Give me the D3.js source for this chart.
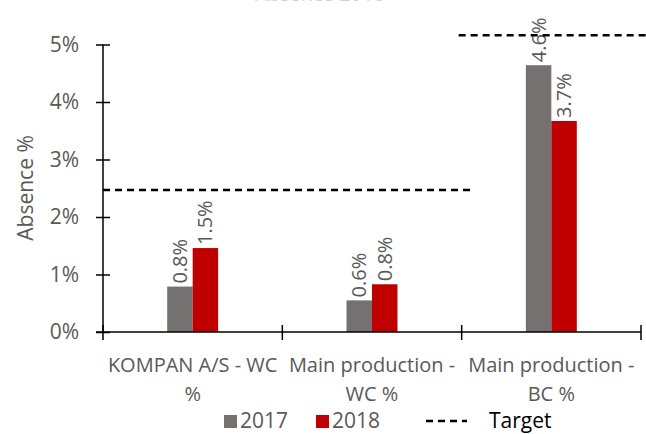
<!DOCTYPE html>
<html>
<head>
<meta charset="utf-8">
<script src="https://cdn.jsdelivr.net/npm/d3@7"></script>
<style>
  body { margin: 0; background: #fff; }
  svg { display: block; font-family: "Open Sans", sans-serif; }
</style>
</head>
<body>
<svg id="chart" width="646" height="434"></svg>
<script>
// Data
const categories = ["KOMPAN A/S - WC %", "Main production - WC %", "Main production - BC %"];
const series = ["2017", "2018"];
const values2017 = [0.79, 0.55, 4.64];
const values2018 = [1.46, 0.83, 3.67];
const labels2017 = ["0.8%", "0.6%", "4.6%"];
const labels2018 = ["1.5%", "0.8%", "3.7%"];
const targetValues = [2.47, 5.16];
const yTicks = [0, 1, 2, 3, 4, 5];

const colors = { "2017": "#767171", "2018": "#C00000" };
const textGrey = "#595959";

const svg = d3.select('#chart');

// Scales
const x = d3.scaleBand().domain(categories).range([103, 641]).padding(0);
const xSub = d3.scaleBand().domain(series).range([0, x.bandwidth()]).paddingInner(0).paddingOuter(2.52);
const y = d3.scaleLinear().domain([0, 5]).range([332, 44.5]);

// Title (clipped at top of picture)
svg.append('text')
    .attr('x', 320)
    .attr('y', 1)
    .attr('text-anchor', 'middle')
    .style('font-size', '20px')
    .style('fill', '#d0d0d0')
    .text('Absence 2018');

// Bars
const rows = categories.map((c, i) => ({
    cat: c,
    items: [
        { s: "2017", v: values2017[i], label: labels2017[i] },
        { s: "2018", v: values2018[i], label: labels2018[i] }
    ]
}));

const groups = svg.selectAll('g.cat')
    .data(rows)
    .enter()
    .append('g')
    .attr('class', 'cat')
    .attr('transform', d => `translate(${x(d.cat)},0)`);

groups.selectAll('rect')
    .data(d => d.items)
    .enter()
    .append('rect')
    .attr('x', d => xSub(d.s))
    .attr('y', d => y(d.v))
    .attr('width', xSub.bandwidth())
    .attr('height', d => y(0) - y(d.v))
    .attr('fill', d => colors[d.s]);

// Data labels, rotated
groups.selectAll('text.lbl')
    .data(d => d.items)
    .enter()
    .append('text')
    .attr('class', 'lbl')
    .attr('transform', d => `translate(${xSub(d.s) + xSub.bandwidth() / 2 + 7},${y(d.v) - 3}) rotate(-90)`)
    .style('font-size', '20px')
    .style('fill', textGrey)
    .text(d => d.label);

// Target lines
const targetSegments = [
    { v: targetValues[0], x1: x(categories[0]), x2: x(categories[1]) + x.bandwidth() + 10 },
    { v: targetValues[1], x1: x(categories[2]) - 3, x2: 660 }
];
svg.selectAll('line.target')
    .data(targetSegments)
    .enter()
    .append('line')
    .attr('class', 'target')
    .attr('x1', d => d.x1)
    .attr('x2', d => d.x2)
    .attr('y1', d => y(d.v))
    .attr('y2', d => y(d.v))
    .attr('stroke', '#000')
    .attr('stroke-width', 2.5)
    .attr('stroke-dasharray', '7,5');

// Y axis
const yAxis = svg.append('g')
    .attr('transform', `translate(${x.range()[0]},0)`)
    .call(d3.axisLeft(y).tickValues(yTicks).tickFormat(d => d + '%').tickSize(7).tickPadding(17));
yAxis.select('.domain').attr('d', `M0,${y(5)}V${y(0)}`).attr('stroke', '#000').attr('stroke-width', 1.5);
yAxis.selectAll('.tick line').attr('x1', 7).attr('stroke', '#000').attr('stroke-width', 1.5);
yAxis.selectAll('.tick text')
    .style('font-size', '21px')
    .style('font-family', '"Open Sans", sans-serif')
    .style('fill', textGrey);

svg.append('text')
    .attr('transform', `translate(33,188) rotate(-90)`)
    .attr('text-anchor', 'middle')
    .style('font-size', '21px')
    .style('fill', textGrey)
    .text('Absence %');

// X axis line and category boundary ticks
const xAxis = svg.append('g');
xAxis.append('line')
    .attr('x1', x.range()[0] - 7).attr('x2', x.range()[1])
    .attr('y1', y(0)).attr('y2', y(0))
    .attr('stroke', '#000').attr('stroke-width', 1.5);
const bounds = categories.map(c => x(c)).concat([x.range()[1]]);
xAxis.selectAll('line.tick')
    .data(bounds)
    .enter()
    .append('line')
    .attr('class', 'tick')
    .attr('x1', d => d).attr('x2', d => d)
    .attr('y1', y(0) - 7).attr('y2', y(0) + 8)
    .attr('stroke', '#000').attr('stroke-width', 1.5);

// Category labels (wrapped to band width)
function wrapLines(text, width, fontSize) {
    const words = text.split(' ');
    const tmp = svg.append('text').style('font-size', fontSize + 'px');
    const lines = [];
    let line = [];
    words.forEach(w => {
        line.push(w);
        tmp.text(line.join(' '));
        if (tmp.node().getComputedTextLength() > width && line.length > 1) {
            line.pop();
            lines.push(line.join(' '));
            line = [w];
        }
    });
    lines.push(line.join(' '));
    tmp.remove();
    return lines;
}

categories.forEach(c => {
    const lines = wrapLines(c, x.bandwidth() + 2, 20);
    const t = svg.append('text')
        .attr('text-anchor', 'middle')
        .style('font-size', '20px')
        .style('fill', textGrey);
    lines.forEach((l, i) => {
        t.append('tspan')
            .attr('x', x(c) + x.bandwidth() / 2)
            .attr('y', 372 + i * 29)
            .text(l);
    });
});

// Legend
const legend = svg.append('g').attr('transform', 'translate(0,427)');
const legendItems = [
    { s: "2017", x: 224 },
    { s: "2018", x: 316 }
];
legend.selectAll('rect')
    .data(legendItems)
    .enter()
    .append('rect')
    .attr('x', d => d.x)
    .attr('y', -12)
    .attr('width', 13)
    .attr('height', 13)
    .attr('fill', d => colors[d.s]);
legend.selectAll('text.ser')
    .data(legendItems)
    .enter()
    .append('text')
    .attr('class', 'ser')
    .attr('x', d => d.x + 16)
    .attr('y', 1)
    .style('font-size', '21px')
    .style('fill', textGrey)
    .text(d => d.s);
legend.append('line')
    .attr('x1', 426).attr('x2', 467)
    .attr('y1', -6).attr('y2', -6)
    .attr('stroke', '#000').attr('stroke-width', 2.5)
    .attr('stroke-dasharray', '7,5');
legend.append('text')
    .attr('x', 489)
    .attr('y', 1)
    .style('font-size', '21px')
    .style('fill', '#000')
    .text('Target');
</script>
</body>
</html>
